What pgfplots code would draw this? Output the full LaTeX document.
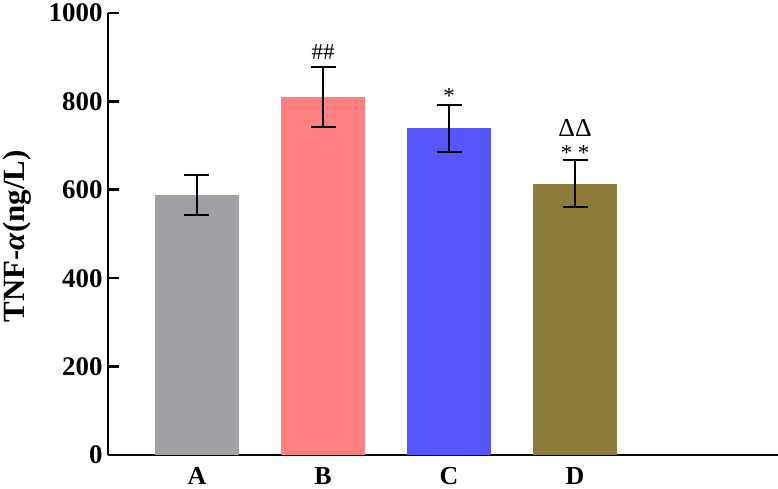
\documentclass[border=0pt]{standalone}
\usepackage{pgfplots}
\pgfplotsset{compat=1.18}
\usepackage{fontspec}
\setmainfont{Liberation Serif}
\definecolor{cA}{RGB}{160,159,164}
\definecolor{cB}{RGB}{255,128,128}
\definecolor{cC}{RGB}{86,86,255}
\definecolor{cD}{RGB}{140,123,58}
\begin{document}
\begin{tikzpicture}
\begin{axis}[
  name=ax,
  scale only axis,
  width=670bp, height=442bp,
  xmin=-0.706, xmax=4.61,
  ymin=0, ymax=1000,
  axis x line=bottom, axis y line=left,
  axis line style={line width=2.6bp, -},
  xtick={0,1,2,3}, xticklabels={A,B,C,D},
  ytick={0,200,400,600,800,1000},
  tick style={line width=2.6bp, black},
  major tick length=11bp,
  tick align=inside,
  /pgf/number format/assume math mode=true,
  /pgf/number format/1000 sep={},
  yticklabel style={font=\fontsize{27}{29}\selectfont\bfseries, xshift=-2bp},
  xticklabel style={font=\fontsize{26}{28}\selectfont\bfseries, yshift=-9bp},
  ylabel={\fontsize{31}{34}\selectfont\bfseries TNF-\textit{α}(ng/L)},
  ylabel style={at={(axis description cs:-0.136,0.495)}, anchor=center},
  clip=false,
]
\addplot[ybar, bar width=0.667, bar shift=0pt, draw=none, fill=cA] coordinates {(0,588)};
\addplot[ybar, bar width=0.667, bar shift=0pt, draw=none, fill=cB] coordinates {(1,810)};
\addplot[ybar, bar width=0.667, bar shift=0pt, draw=none, fill=cC] coordinates {(2,739)};
\addplot[ybar, bar width=0.667, bar shift=0pt, draw=none, fill=cD] coordinates {(3,614)};
\addplot[draw=none, mark=none, line width=2bp,
  error bars/.cd, y dir=both, y explicit,
  error bar style={line width=2bp, black},
  error mark options={rotate=90, mark size=12.5bp, line width=2bp, black}]
  coordinates {(0,588) +- (0,45) (1,810) +- (0,67) (2,739) +- (0,53) (3,614) +- (0,53)};
\node[font=\fontsize{23}{24}\selectfont] at (axis cs:1,912) {\#\#};
\node[font=\fontsize{23}{24}\selectfont] at (axis cs:2,812) {*};
\node[font=\fontsize{26}{28}\selectfont, inner sep=0pt] at (axis cs:3,740) {ΔΔ};
\node[font=\fontsize{23}{24}\selectfont] at (axis cs:3,683) {* *};
\end{axis}
\pgfresetboundingbox
\path (ax.south west) ++(-108bp,-34bp) coordinate (bl);
\path (ax.north east) ++(0bp,13bp) coordinate (tr);
\path[use as bounding box] (bl) rectangle (tr);
\end{tikzpicture}
\end{document}
